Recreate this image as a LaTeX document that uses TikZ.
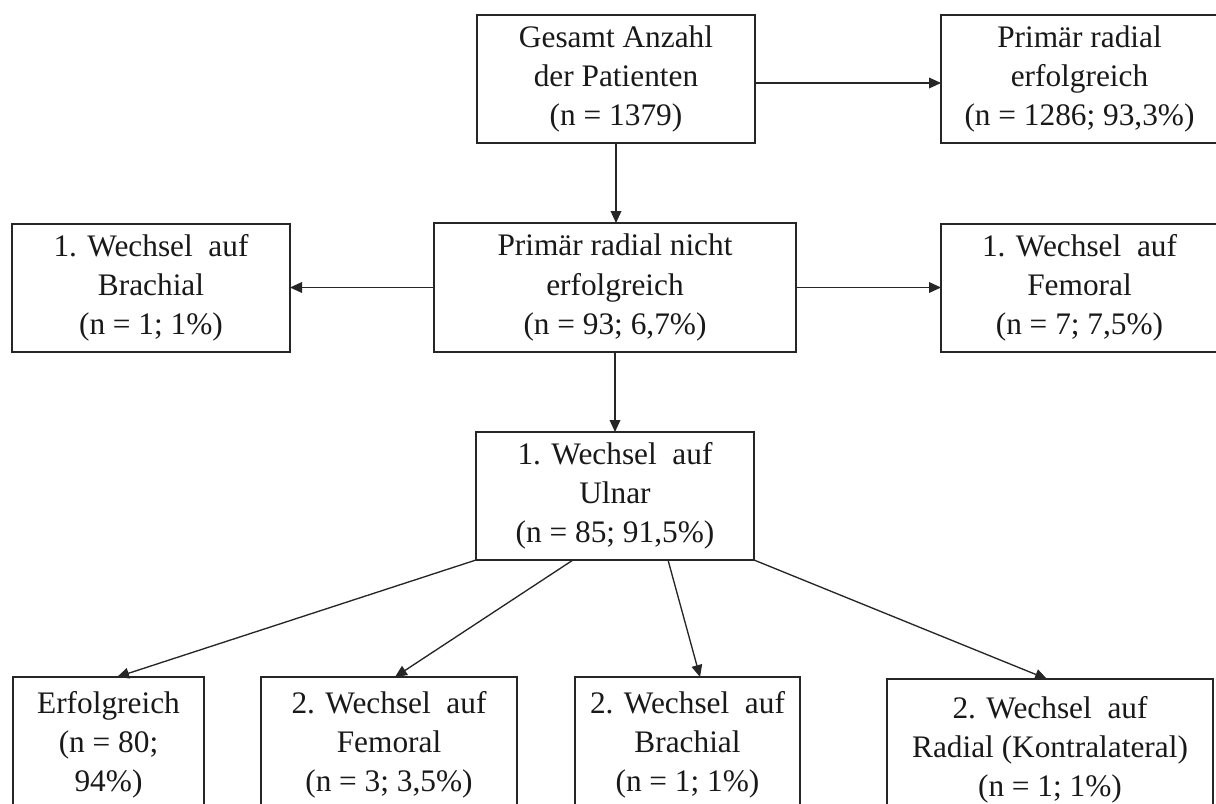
\documentclass[tikz,border=0pt]{standalone}
\usepackage{fontspec}
\setmainfont{Liberation Serif}
\usetikzlibrary{arrows.meta}
\tikzset{
  box/.style={draw=black!85, line width=1pt, inner sep=0pt, outer sep=0pt,
    align=center, font=\fontsize{23.5}{29.3}\selectfont, text=black!90},
  arr/.style={draw=black!85, line width=1pt, -{Triangle[length=9pt,width=8pt]}}
}
\begin{document}
\begin{tikzpicture}[x=0.75pt,y=-0.75pt]
\clip (0,0) rectangle (1216,803);
\fill[white] (0,0) rectangle (1216,803);
% row 1
\node[box, minimum width=208.5pt, minimum height=96pt] (A) at (616,79)
  {Gesamt Anzahl\\der Patienten\\(n = 1379)};
\node[box, minimum width=207.75pt, minimum height=96pt] (B) at (1079.5,79)
  {Primär radial\\erfolgreich\\(n = 1286; 93,3\%)};
% row 2
\node[box, minimum width=271.5pt, minimum height=96.75pt] (C) at (615,287.5)
  {Primär radial nicht\\erfolgreich\\(n = 93; 6,7\%)};
\node[box, minimum width=208.5pt, minimum height=96pt] (D) at (151,288)
  {1. Wechsel\ \ auf\\Brachial\\(n = 1; 1\%)};
\node[box, minimum width=207.75pt, minimum height=96pt] (E) at (1079.5,288)
  {1. Wechsel\ \ auf\\Femoral\\(n = 7; 7,5\%)};
% row 3
\node[box, minimum width=208.5pt, minimum height=96pt] (F) at (615,496)
  {1. Wechsel\ \ auf\\Ulnar\\(n = 85; 91,5\%)};
% row 4
\node[box, minimum width=143.25pt, minimum height=102pt] (G1) at (108.5,745)
  {Erfolgreich\\(n = 80;\\94\%)};
\node[box, minimum width=192pt, minimum height=102pt] (G2) at (389,745)
  {2. Wechsel\ \ auf\\Femoral\\(n = 3; 3,5\%)};
\node[box, minimum width=168.75pt, minimum height=102pt] (G3) at (687.5,745)
  {2. Wechsel\ \ auf\\Brachial\\(n = 1; 1\%)};
\node[box, minimum width=244.5pt, minimum height=106.5pt] (G4) at (1050,750)
  {2. Wechsel\ \ auf\\Radial (Kontralateral)\\(n = 1; 1\%)};
% connectors
\draw[arr] ([yshift=-3pt]A.east) -- ([yshift=-3pt]B.west);
\draw[arr] (A.south) -- (A.south |- C.north);
\draw[arr] (C.west) -- (C.west -| D.east);
\draw[arr] (C.east) -- (C.east -| E.west);
\draw[arr] (C.south) -- (F.north);
\draw[arr] (F.south west) -- ([xshift=6.4pt]G1.north);
\draw[arr] ([xshift=-31.5pt]F.south) -- ([xshift=4.5pt]G2.north);
\draw[arr] ([xshift=39.75pt]F.south) -- ([xshift=9.4pt]G3.north);
\draw[arr] (F.south east) -- ([xshift=-2.25pt]G4.north);
\end{tikzpicture}
\end{document}
